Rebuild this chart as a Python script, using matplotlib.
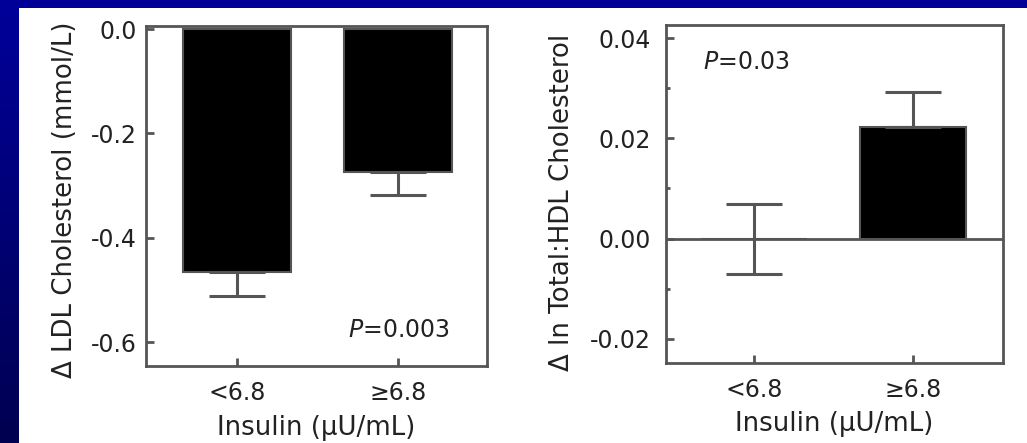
import numpy as np
import matplotlib
matplotlib.use("Agg")
import matplotlib.pyplot as plt
from matplotlib.patches import Rectangle
from matplotlib.ticker import MultipleLocator

# Data
groups = ["<6.8", "\u22656.8"]
ldl_change = [-0.466, -0.274]
ldl_err = [0.046, 0.044]
ratio_change = [0.0, 0.0223]
ratio_err_low = [0.007, 0.0]
ratio_err_high = [0.007, 0.007]

W, H = 1027, 443
fig = plt.figure(figsize=(W / 100, H / 100), dpi=100)
fig.patch.set_facecolor("#000099")

# slide background: blue gradient strip on the left, white panel
bg = fig.add_axes([0, 0, 1, 1], zorder=-10)
bg.axis("off")
grad = np.linspace(0, 1, 256).reshape(-1, 1)
cmap = matplotlib.colors.LinearSegmentedColormap.from_list("b", ["#000099", "#000050"])
bg.imshow(grad, aspect="auto", cmap=cmap, extent=[0, 19, 0, H - 8], origin="upper")
bg.add_patch(Rectangle((19, 0), W - 19, H - 8, facecolor="white", edgecolor="none"))
bg.set_xlim(0, W)
bg.set_ylim(0, H)

edge = "#555555"
txt = "#222222"
plt.rcParams["font.family"] = "DejaVu Sans"
fs_tick = 17
fs_lab = 18.7

x = np.arange(len(groups))


def style(ax, ypad):
    ax.set_facecolor("none")
    for s in ax.spines.values():
        s.set_color(edge)
        s.set_linewidth(2)
    ax.tick_params(direction="in", color=edge, length=6, width=2,
                   labelsize=fs_tick, labelcolor=txt)
    ax.tick_params(axis="y", pad=ypad)
    ax.tick_params(axis="x", pad=11)
    ax.set_xticks(x)
    ax.set_xticklabels(groups)


# Left panel: LDL cholesterol
ax1 = fig.add_axes([146 / W, 1 - 366 / H, (487 - 146) / W, (366 - 26) / H])
ax1.bar(x, ldl_change, width=0.67, color="black", edgecolor=edge, linewidth=1.5)
ax1.errorbar(x, ldl_change, yerr=[ldl_err, [0, 0]], fmt="none", ecolor=edge,
             elinewidth=2.2, capsize=20, capthick=2.2)
ax1.set_xlim(-0.565, 1.553)
ax1.set_ylim(-0.646, 0.006)
ax1.set_yticks([0.0, -0.2, -0.4, -0.6])
ax1.set_yticklabels(["0.0", "-0.2", "-0.4", "-0.6"])
style(ax1, 6.5)
ax1.set_ylabel("\u0394 LDL Cholesterol (mmol/L)", fontsize=fs_lab, color=txt, va="center")
ax1.yaxis.set_label_coords(-0.2375, 0.488)
ax1.set_xlabel("Insulin (\u00b5U/mL)", fontsize=fs_lab, color=txt, va="center")
ax1.xaxis.set_label_coords(0.5, -0.182)
ax1.text(0.891, 0.106, "$\\it{P}$=0.003", transform=ax1.transAxes, ha="right",
         va="center", fontsize=fs_tick, color=txt)

# Right panel: total:HDL ratio
ax2 = fig.add_axes([666 / W, 1 - 363 / H, (1003 - 666) / W, (363 - 25) / H])
ax2.bar(x, ratio_change, width=0.67, color="black", edgecolor=edge, linewidth=1.5)
ax2.errorbar(x, ratio_change, yerr=[ratio_err_low, ratio_err_high], fmt="none",
             ecolor=edge, elinewidth=2.2, capsize=20, capthick=2.2)
ax2.axhline(0, color=edge, linewidth=2)
ax2.set_xlim(-0.553, 1.566)
ax2.set_ylim(-0.0248, 0.0426)
ax2.set_yticks([0.04, 0.02, 0.0, -0.02])
ax2.set_yticklabels(["0.04", "0.02", "0.00", "-0.02"])
ax2.yaxis.set_minor_locator(MultipleLocator(0.01))
style(ax2, 11)
ax2.tick_params(axis="y", which="minor", direction="in", color=edge, length=3, width=2)
ax2.set_ylabel("\u0394 ln Total:HDL Cholesterol", fontsize=fs_lab, color=txt, va="center")
ax2.yaxis.set_label_coords(-0.309, 0.476)
ax2.set_xlabel("Insulin (\u00b5U/mL)", fontsize=fs_lab, color=txt, va="center")
ax2.xaxis.set_label_coords(0.5, -0.180)
ax2.text(0.11, 0.89, "$\\it{P}$=0.03", transform=ax2.transAxes, ha="left",
         va="center", fontsize=fs_tick, color=txt)

fig.savefig("out.png", dpi=100, facecolor=fig.get_facecolor())
